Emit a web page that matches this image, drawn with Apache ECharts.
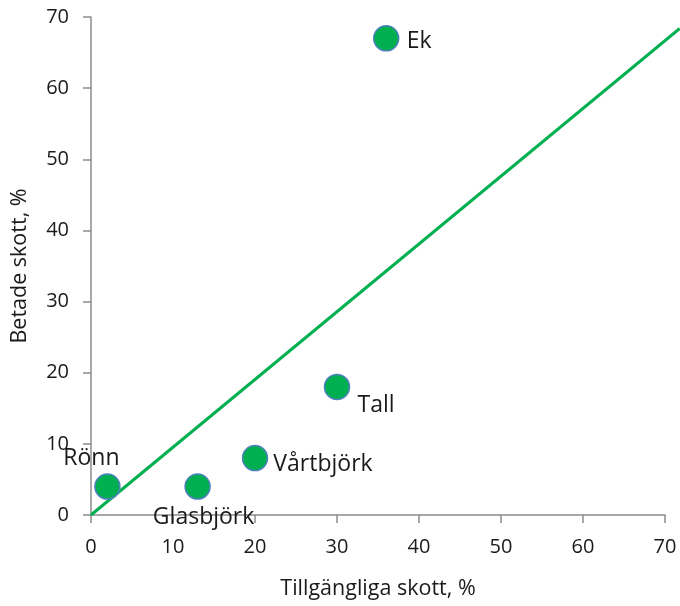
<!DOCTYPE html>
<html><head><meta charset="utf-8">
<script src="https://cdn.jsdelivr.net/npm/echarts@6/dist/echarts.min.js"></script>
<style>html,body{margin:0;padding:0;background:#fff}#c{width:680px;height:606px}</style>
</head><body><div id="c"></div>
<script>
const names = ['Ek', 'Tall', 'Vårtbjörk', 'Glasbjörk', 'Rönn'];
const xValues = [36, 30, 20, 13, 2];
const yValues = [67, 18, 8, 4, 4];
const lineX = [0, 71.8];
const lineY = [0, 68.4];
const xTicks = [0, 10, 20, 30, 40, 50, 60, 70];
const yTicks = [0, 10, 20, 30, 40, 50, 60, 70];

const labelOffsets = {
  'Ek': [33, 3], 'Tall': [39, 19], 'Vårtbjörk': [68, 6], 'Glasbjörk': [6, 31], 'Rönn': [-16, -28]
};
const FONT = 'Open Sans';
const GRID_LEFT = 91, GRID_RIGHT = 15, GRID_TOP = 17, GRID_BOTTOM = 91, W = 680;
const plotW = W - GRID_LEFT - GRID_RIGHT;
const overlayMax = 70 * (W - GRID_LEFT) / plotW;

const chart = echarts.init(document.getElementById('c'));
const axisCommon = {
  type: 'value', min: 0, max: 70, interval: 10,
  axisLine: { show: true, lineStyle: { color: '#8c8c8c', width: 1.5 } },
  axisTick: { show: true, inside: false, length: 8, lineStyle: { color: '#8c8c8c', width: 1.5 } },
  splitLine: { show: false },
  nameLocation: 'middle',
  nameTextStyle: { fontFamily: FONT, fontSize: 21.5, color: '#1a1a1a' }
};
chart.setOption({
  animation: false,
  grid: [
    { left: GRID_LEFT, right: GRID_RIGHT, top: GRID_TOP, bottom: GRID_BOTTOM, containLabel: false, outerBoundsMode: 'none' },
    { left: GRID_LEFT, right: 0, top: GRID_TOP, bottom: GRID_BOTTOM, containLabel: false, outerBoundsMode: 'none' }
  ],
  xAxis: [
    Object.assign({}, axisCommon, {
      gridIndex: 0, name: 'Tillgängliga skott, %', nameGap: 63,
      axisLabel: { fontFamily: FONT, fontSize: 20, color: '#1a1a1a', margin: 22,
        formatter: v => xTicks.includes(v) ? String(v) : '' }
    }),
    { type: 'value', gridIndex: 1, min: 0, max: overlayMax, show: false }
  ],
  yAxis: [
    Object.assign({}, axisCommon, {
      gridIndex: 0, name: 'Betade skott, %', nameGap: 60,
      axisLabel: { fontFamily: FONT, fontSize: 20, color: '#1a1a1a', margin: 22,
        formatter: v => yTicks.includes(v) ? String(v) : '' }
    }),
    { type: 'value', gridIndex: 1, min: 0, max: 70, show: false }
  ],
  series: [
    {
      type: 'line', xAxisIndex: 1, yAxisIndex: 1,
      data: lineX.map((x, i) => [x, lineY[i]]),
      symbol: 'none', z: 1,
      lineStyle: { color: '#00B050', width: 3 }
    },
    {
      type: 'scatter', xAxisIndex: 0, yAxisIndex: 0, z: 3,
      data: names.map((n, i) => ({
        value: [xValues[i], yValues[i]], name: n,
        label: { offset: labelOffsets[n] }
      })),
      symbolSize: 25,
      itemStyle: { color: '#00B050', borderColor: '#4F81BD', borderWidth: 1.5, opacity: 1 },
      label: {
        show: true, position: 'inside', formatter: p => p.name,
        fontFamily: FONT, fontSize: 23, color: '#1a1a1a'
      }
    }
  ]
});
</script></body></html>
